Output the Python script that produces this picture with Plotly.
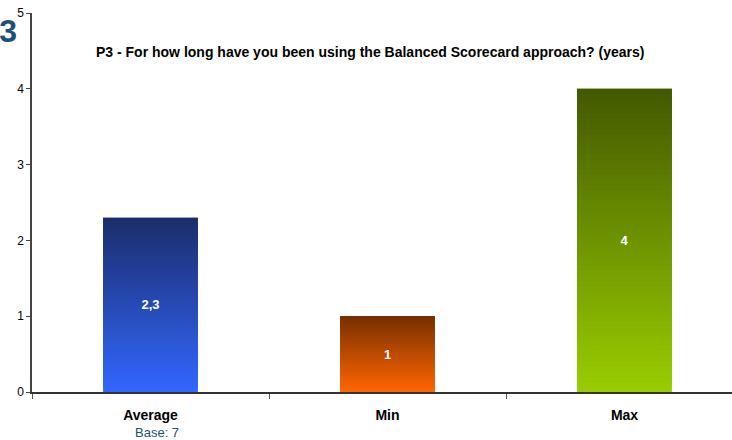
import plotly.graph_objects as go

categories = ["Average", "Min", "Max"]
values = [2.3, 1, 4]
value_labels = ["2,3", "1", "4"]
top_colors = ["#1b2d6b", "#773000", "#435a00"]
bottom_colors = ["#3366ff", "#ff6600", "#99cc00"]
title_text = "P3 - For how long have you been using the Balanced Scorecard approach? (years)"
base_text = "Base: 7"
y_ticks = [0, 1, 2, 3, 4, 5]

FONT = "Liberation Sans, Arial, sans-serif"
N = 60


def hex2rgb(h):
    h = h.lstrip("#")
    return tuple(int(h[i:i + 2], 16) for i in (0, 2, 4))


def mix(c1, c2, t):
    a, b = hex2rgb(c1), hex2rgb(c2)
    return "rgb(%d,%d,%d)" % tuple(round(a[i] + (b[i] - a[i]) * t) for i in range(3))


fig = go.Figure()
for i in range(N):
    t = i / (N - 1)
    extra = 1.0 if i < N - 1 else 0.0
    fig.add_trace(go.Bar(
        x=categories,
        y=[v / N * (1 + extra) for v in values],
        base=[v * i / N for v in values],
        marker=dict(color=[mix(b, tp, t) for b, tp in zip(bottom_colors, top_colors)],
                    line=dict(width=0)),
        width=0.4,
        hoverinfo="skip",
        showlegend=False,
    ))

fig.add_trace(go.Bar(
    x=categories,
    y=values,
    width=0.4,
    marker=dict(color="rgba(0,0,0,0)", line=dict(width=0)),
    text=value_labels,
    textposition="inside",
    insidetextanchor="middle",
    textfont=dict(family=FONT, size=13, color="white", weight="bold"),
    showlegend=False,
))

fig.update_layout(
    barmode="overlay",
    width=732, height=440,
    margin=dict(l=32, r=0, t=13, b=48),
    paper_bgcolor="white", plot_bgcolor="white",
    font=dict(family=FONT, size=11, color="black"),
    xaxis=dict(
        range=[-0.5, -0.5 + 700 / 237],
        showline=True, linecolor="#333333", linewidth=1.5,
        ticks="outside", tickson="boundaries", ticklen=5, tickcolor="#555555",
        ticklabelstandoff=9,
        tickfont=dict(family=FONT, size=14, color="black", weight="bold"),
        showgrid=False, zeroline=False,
    ),
    yaxis=dict(
        range=[0, 5], tickvals=y_ticks,
        showline=True, linecolor="#444444", linewidth=1.5,
        ticks="outside", ticklen=4, tickcolor="#444444",
        tickfont=dict(family=FONT, size=12, color="black"),
        showgrid=False, zeroline=False,
    ),
    annotations=[
        dict(text="<b>" + title_text + "</b>", xref="paper", yref="paper",
             x=(370 - 32) / 700, y=1 - (52 - 13) / 379, xanchor="center", yanchor="middle",
             showarrow=False, font=dict(family=FONT, size=14, color="black")),
        dict(text="<b>P3</b>", xref="paper", yref="paper",
             x=(19 - 32) / 700, y=1 - (31 - 13) / 379, xanchor="right", yanchor="middle",
             showarrow=False, font=dict(family=FONT, size=32, color="#1f4e79")),
        dict(text=base_text, xref="x", yref="paper", x=categories[0], xshift=6,
             y=-(432 - 392) / 379, yanchor="middle", showarrow=False,
             font=dict(family=FONT, size=13, color="#1f4e79")),
    ],
)

fig.write_html("out.html")
